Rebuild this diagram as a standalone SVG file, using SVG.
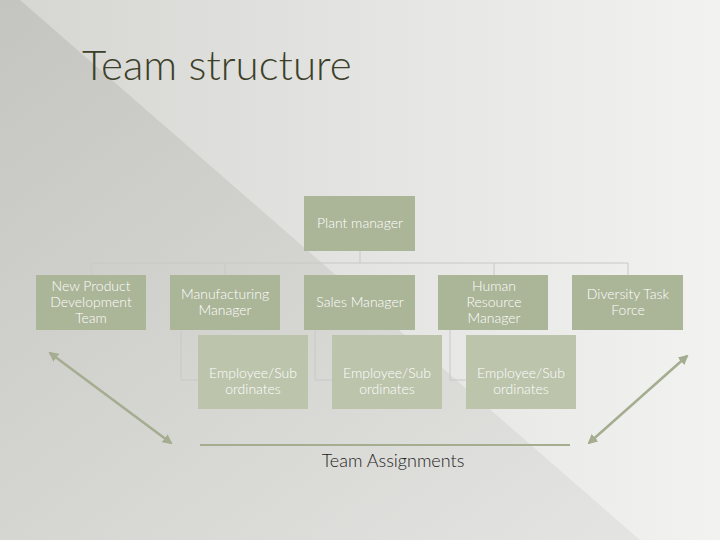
<svg xmlns="http://www.w3.org/2000/svg" width="720" height="540" viewBox="0 0 720 540">
<defs>
<linearGradient id="bg" x1="0" y1="0" x2="1" y2="1"><stop offset="0" stop-color="#c4c4c0"/><stop offset="1" stop-color="#e6e6e4"/></linearGradient>
<linearGradient id="bg2" x1="0" y1="0" x2="1" y2="0"><stop offset="0" stop-color="#d6d6d3"/><stop offset="1" stop-color="#f2f2f1"/></linearGradient>
<marker id="ah" viewBox="0 0 10 10" refX="8" refY="5" markerWidth="4" markerHeight="4" orient="auto-start-reverse"><path d="M0,0 L10,5 L0,10 z" fill="#a4ad8f"/></marker>
<style>
.n rect{fill:#abb598}
.n.e rect{fill:#bcc4ac}
.n text{font-family:Lato,"Liberation Sans",sans-serif;font-weight:300;font-size:14px;fill:#fff;text-anchor:middle}
.c{fill:none;stroke:#c8c8c8;stroke-width:1}
</style>
</defs>
<rect width="720" height="540" fill="url(#bg)"/>
<polygon points="20,0 720,0 720,540 640,540" fill="url(#bg2)"/>
<text x="82" y="80" font-family="Lato,'Liberation Sans',sans-serif" font-weight="300" font-size="42" fill="#3c4028">Team structure</text>
<g id="connectors">
<path class="c" d="M360,251 V263 M91,263 H628 M91,263 V275 M225,263 V275 M494,263 V275 M628,263 V275"/>
<path class="c" d="M181,330 V380 H198 M315,330 V380 H332 M450,330 V380 H466"/>
<line x1="50" y1="353" x2="171" y2="443" stroke="#a4ad8f" stroke-width="2.5" marker-start="url(#ah)" marker-end="url(#ah)"/>
<line x1="687" y1="356" x2="589" y2="443" stroke="#a4ad8f" stroke-width="2.5" marker-start="url(#ah)" marker-end="url(#ah)"/>
<line x1="200" y1="445" x2="570" y2="445" stroke="#a4ad8f" stroke-width="2"/>
</g>
<g id="plant" class="n"><rect x="304" y="196" width="111" height="55"/><text x="360" y="228">Plant manager</text></g>
<g id="npd" class="n"><rect x="36" y="275" width="110" height="55"/><text x="91" y="291">New Product</text><text x="91" y="307">Development</text><text x="91" y="323">Team</text></g>
<g id="mfg" class="n"><rect x="170" y="275" width="110" height="55"/><text x="225" y="299">Manufacturing</text><text x="225" y="315">Manager</text></g>
<g id="sales" class="n"><rect x="304" y="275" width="111" height="55"/><text x="360" y="307">Sales Manager</text></g>
<g id="hr" class="n"><rect x="438" y="275" width="110" height="55"/><text x="494" y="291">Human</text><text x="494" y="307">Resource</text><text x="494" y="323">Manager</text></g>
<g id="div" class="n"><rect x="572" y="275" width="111" height="55"/><text x="628" y="299">Diversity Task</text><text x="628" y="315">Force</text></g>
<g id="emp1" class="n e"><rect x="198" y="335" width="110" height="74"/><text x="253" y="378">Employee/Sub</text><text x="253" y="394">ordinates</text></g>
<g id="emp2" class="n e"><rect x="332" y="335" width="110" height="74"/><text x="387" y="378">Employee/Sub</text><text x="387" y="394">ordinates</text></g>
<g id="emp3" class="n e"><rect x="466" y="335" width="110" height="74"/><text x="521" y="378">Employee/Sub</text><text x="521" y="394">ordinates</text></g>
<text x="393" y="467" font-family="Lato,'Liberation Sans',sans-serif" font-weight="300" font-size="18" fill="#222" text-anchor="middle">Team Assignments</text>
</svg>
